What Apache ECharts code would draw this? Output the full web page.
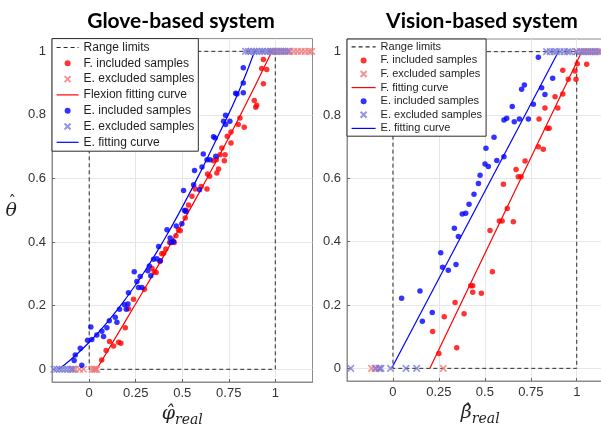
<!DOCTYPE html>
<html><head><meta charset="utf-8">
<script src="https://cdn.jsdelivr.net/npm/echarts@6/dist/echarts.min.js"></script>
<style>html,body{margin:0;padding:0;background:#fff}#c{width:601px;height:428px}</style>
</head><body><div id="c"></div>
<script>
// ---------- tick labels ----------
const xTicks = [0, 0.25, 0.5, 0.75, 1];
const yTicks = [0, 0.2, 0.4, 0.6, 0.8, 1];

// ---------- range limits (both panels) ----------
const rangeLimits = [[0,1],[0,0],[1,0],[1,1],[0,1]];

// ---------- Glove-based system ----------
const gloveFIncluded = [[0.067,0.029],[0.091,0.059],[0.109,0.087],[0.131,0.073],[0.158,0.085],[0.17,0.082],[0.194,0.131],[0.211,0.19],[0.238,0.22],[0.297,0.252],[0.337,0.318],[0.349,0.307],[0.36,0.304],[0.38,0.339],[0.39,0.363],[0.4,0.365],[0.412,0.378],[0.432,0.399],[0.457,0.399],[0.466,0.42],[0.48,0.439],[0.489,0.436],[0.516,0.476],[0.52,0.5],[0.534,0.517],[0.552,0.544],[0.57,0.567],[0.602,0.575],[0.633,0.567],[0.636,0.614],[0.647,0.607],[0.668,0.656],[0.683,0.659],[0.686,0.617],[0.695,0.63],[0.703,0.675],[0.713,0.696],[0.726,0.656],[0.73,0.675],[0.742,0.733],[0.762,0.712],[0.762,0.746],[0.801,0.77],[0.81,0.79],[0.833,0.761],[0.887,0.845],[0.895,0.824],[0.9,0.83],[0.936,0.898],[0.927,0.946],[0.954,0.943],[0.936,0.974]];
const gloveFExcluded = [[-0.085,0],[-0.075,0],[-0.052,0],[-0.031,0],[0.015,0],[0.025,0],[0.03,0],[0.035,0],[0.041,0],[0.98,1],[1.0,1],[1.02,1],[1.04,1],[1.06,1],[1.08,1],[1.1,1],[1.12,1],[1.14,1],[1.16,1],[1.18,1],[1.195,1]];
const gloveFCurve = [[0.04,0],[0.2,0.157],[0.4,0.356],[0.6,0.565],[0.8,0.785],[0.982,1]];
const gloveEIncluded = [[-0.081,0.028],[-0.075,0.045],[-0.048,0.066],[-0.04,0.013],[-0.009,0.091],[0.009,0.133],[0.014,0.094],[0.041,0.108],[0.068,0.12],[0.077,0.103],[0.095,0.131],[0.108,0.153],[0.14,0.164],[0.149,0.148],[0.163,0.189],[0.19,0.203],[0.199,0.189],[0.208,0.205],[0.211,0.241],[0.242,0.307],[0.256,0.276],[0.265,0.257],[0.274,0.292],[0.283,0.257],[0.315,0.31],[0.323,0.325],[0.331,0.294],[0.346,0.346],[0.364,0.348],[0.373,0.386],[0.382,0.341],[0.418,0.439],[0.435,0.413],[0.44,0.399],[0.453,0.402],[0.468,0.451],[0.498,0.458],[0.512,0.499],[0.507,0.562],[0.52,0.496],[0.561,0.58],[0.566,0.625],[0.593,0.565],[0.606,0.636],[0.613,0.677],[0.633,0.659],[0.649,0.659],[0.668,0.731],[0.677,0.727],[0.68,0.67],[0.722,0.78],[0.733,0.799],[0.733,0.77],[0.756,0.78],[0.787,0.868],[0.794,0.866],[0.828,0.9],[0.828,0.87],[0.828,0.948]];
const gloveEExcluded = [[-0.19,0],[-0.175,0],[-0.16,0],[-0.145,0],[-0.13,0],[-0.115,0],[-0.1,0],[-0.09,0],[0.84,1],[0.855,1],[0.87,1],[0.885,1],[0.9,1],[0.915,1],[0.93,1],[0.945,1],[0.96,1],[0.975,1],[0.99,1],[1.01,1],[1.03,1],[1.05,1],[1.07,1]];
const gloveECurve = [[-0.165,0],[-0.1,0.03],[0,0.085],[0.1,0.15],[0.2,0.225],[0.3,0.31],[0.4,0.405],[0.5,0.51],[0.6,0.623],[0.7,0.743],[0.8,0.868],[0.889,1]];

// ---------- Vision-based system ----------
const visionFIncluded = [[0.216,0.116],[0.25,0.047],[0.279,0.163],[0.338,0.208],[0.347,0.065],[0.387,0.172],[0.423,0.261],[0.434,0.261],[0.434,0.24],[0.481,0.237],[0.528,0.435],[0.541,0.305],[0.579,0.465],[0.594,0.465],[0.622,0.505],[0.655,0.463],[0.601,0.581],[0.67,0.628],[0.682,0.605],[0.697,0.605],[0.719,0.655],[0.791,0.7],[0.818,0.692],[0.795,0.787],[0.827,0.822],[0.84,0.758],[0.85,0.758],[0.882,0.858],[0.897,0.822],[0.924,0.866],[0.924,0.941],[0.954,0.913],[0.99,0.939],[0.996,0.913],[1.003,0.962],[1.054,0.96]];
const visionFExcluded = [[-0.116,0],[-0.098,0],[-0.07,0],[0.274,0],[1.0,1],[1.03,1],[1.05,1],[1.07,1],[1.09,1],[1.11,1],[1.13,1]];
const visionFCurve = [[0.201,0],[1.027,1]];
const visionEIncluded = [[0.047,0.221],[0.147,0.244],[0.16,0.149],[0.214,0.176],[0.26,0.365],[0.27,0.319],[0.301,0.31],[0.334,0.442],[0.343,0.328],[0.356,0.416],[0.377,0.487],[0.396,0.49],[0.414,0.518],[0.441,0.55],[0.465,0.584],[0.474,0.61],[0.501,0.645],[0.506,0.695],[0.519,0.637],[0.55,0.73],[0.565,0.656],[0.604,0.668],[0.604,0.784],[0.619,0.79],[0.649,0.827],[0.66,0.779],[0.688,0.787],[0.7,0.881],[0.715,0.895],[0.737,0.787],[0.764,0.834],[0.791,0.982],[0.809,0.886],[0.827,0.865],[0.869,0.916]];
const visionEExcluded = [[-0.23,0],[-0.093,0],[-0.076,0],[-0.065,0],[-0.013,0],[0.071,0],[0.129,0],[0.836,1],[0.855,1],[0.875,1],[0.89,1],[0.91,1],[0.93,1],[0.95,1],[0.963,1],[1.0,1],[1.02,1],[1.04,1],[1.06,1],[1.08,1],[1.1,1],[1.12,1]];
const visionECurve = [[-0.007,0],[0.9,1]];

// ---------- labels ----------
const titles = ['Glove-based system', 'Vision-based system'];
const gloveLegend = ['Range limits', 'F. included samples', 'E. excluded samples', 'Flexion fitting curve', 'E. included samples', 'E. excluded samples', 'E. fitting curve'];
const visionLegend = ['Range limits', 'F. included samples', 'F. excluded samples', 'F. fitting curve', 'E. included samples', 'E. excluded samples', 'E. fitting curve'];

const FONT = 'Liberation Sans';
const RED = '#ff0000', BLUE = '#0000ff', RED_X = '#ee7a7a', BLUE_X = '#7a7ad8';
const CROSS = 'path://M0,0L10,10M10,0L0,10';

function xAxis(idx, min, max, sym) {
  return {
    type: 'value', gridIndex: idx, min: min, max: max,
    axisLine: {show: true, onZero: false, lineStyle: {color: '#8c8c8c', width: 1}},
    axisTick: {show: true, inside: true, length: 3, customValues: xTicks, lineStyle: {color: '#666'}},
    axisLabel: {customValues: xTicks, formatter: v => String(+(+v).toFixed(2)), color: '#333', fontSize: 13, fontFamily: FONT, margin: 5},
    splitLine: {show: true, lineStyle: {color: '#e6e6e6', width: 1}},
    name: '{a|' + sym + '}{b|real}', nameLocation: 'middle', nameGap: 22,
    nameTextStyle: {rich: {
      a: {fontFamily: 'DejaVu Serif', fontStyle: 'italic', fontSize: 19, color: '#222', lineHeight: 22, verticalAlign: 'top'},
      b: {fontFamily: 'DejaVu Serif', fontStyle: 'italic', fontSize: 14, color: '#222', lineHeight: 14, verticalAlign: 'bottom'}
    }}
  };
}
function yAxis(idx, withName) {
  return {
    type: 'value', gridIndex: idx, min: -0.04, max: 1.04,
    axisLine: {show: true, onZero: false, lineStyle: {color: '#8c8c8c', width: 1}},
    axisTick: {show: true, inside: true, length: 3, customValues: yTicks, lineStyle: {color: '#666'}},
    axisLabel: {customValues: yTicks, formatter: v => String(+(+v).toFixed(2)), color: '#333', fontSize: 13, fontFamily: FONT, margin: 6},
    splitLine: {show: true, lineStyle: {color: '#e6e6e6', width: 1}},
    name: withName ? '{h|ˆ}\n{t|θ}' : '', nameLocation: 'middle', nameRotate: 0, nameGap: 35,
    nameTextStyle: {align: 'right', verticalAlign: 'middle', rich: {
      h: {fontFamily: 'DejaVu Serif', fontSize: 15, color: '#222', lineHeight: 1, align: 'center', padding: [0, 0, 0, 2]},
      t: {fontFamily: 'DejaVu Serif', fontStyle: 'italic', fontSize: 19, color: '#222', lineHeight: 17, align: 'center'}
    }}
  };
}
function panelSeries(idx, tag, d) {
  const ax = {xAxisIndex: idx, yAxisIndex: idx};
  return [
    Object.assign({type: 'line', name: d.labels[0] + '|' + tag + '0', data: rangeLimits, symbol: 'none', silent: true,
      lineStyle: {color: '#2b2b2b', width: 1, type: [4, 3]}, itemStyle: {color: '#2b2b2b'}, z: 2}, ax),
    Object.assign({type: 'scatter', name: d.labels[1] + '|' + tag + '1', data: d.fInc, symbol: 'circle', symbolSize: 5.5, itemStyle: {color: RED}, z: 3}, ax),
    Object.assign({type: 'scatter', name: d.labels[2] + '|' + tag + '2', data: d.fExc, symbol: CROSS, symbolSize: 6.5,
      itemStyle: {color: 'rgba(0,0,0,0)', borderColor: RED_X, borderWidth: 1.6}, z: 3}, ax),
    Object.assign({type: 'line', name: d.labels[3] + '|' + tag + '3', data: d.fCurve, symbol: 'none', smooth: true,
      lineStyle: {color: RED, width: 1.2}, itemStyle: {color: RED}, z: 3}, ax),
    Object.assign({type: 'scatter', name: d.labels[4] + '|' + tag + '4', data: d.eInc, symbol: 'circle', symbolSize: 5.5, itemStyle: {color: BLUE}, z: 4}, ax),
    Object.assign({type: 'scatter', name: d.labels[5] + '|' + tag + '5', data: d.eExc, symbol: CROSS, symbolSize: 6.5,
      itemStyle: {color: 'rgba(0,0,0,0)', borderColor: BLUE_X, borderWidth: 1.6}, z: 4}, ax),
    Object.assign({type: 'line', name: d.labels[6] + '|' + tag + '6', data: d.eCurve, symbol: 'none', smooth: true,
      lineStyle: {color: BLUE, width: 1.2}, itemStyle: {color: BLUE}, z: 4}, ax)
  ];
}
function legend(tag, labels, left, top, fs, lh, iw) {
  return {
    orient: 'vertical', left: left, top: top, padding: [1, 4, 1, 4], itemGap: 0,
    itemWidth: iw, itemHeight: 6, selectedMode: false,
    backgroundColor: '#fff', borderColor: '#2b2b2b', borderWidth: 1, borderRadius: 0,
    textStyle: {fontFamily: FONT, fontSize: fs, lineHeight: lh, color: '#1e1e1e'},
    lineStyle: {width: 1.2},
    formatter: n => n.split('|')[0],
    data: labels.map((l, i) => {
      const item = {name: l + '|' + tag + i};
      if (i === 0 || i === 3 || i === 6) item.itemStyle = {opacity: 0};
      return item;
    })
  };
}

const glove = {labels: gloveLegend, fInc: gloveFIncluded, fExc: gloveFExcluded, fCurve: gloveFCurve, eInc: gloveEIncluded, eExc: gloveEExcluded, eCurve: gloveECurve};
const vision = {labels: visionLegend, fInc: visionFIncluded, fExc: visionFExcluded, fCurve: visionFCurve, eInc: visionEIncluded, eExc: visionEExcluded, eCurve: visionECurve};

const chart = echarts.init(document.getElementById('c'), null, {renderer: 'canvas'});
chart.setOption({
  animation: false,
  backgroundColor: '#fff',
  grid: [
    {left: 52, top: 38.6, width: 260.5, height: 343.4, show: true, borderColor: '#8c8c8c', borderWidth: 1, backgroundColor: 'rgba(0,0,0,0)', containLabel: false, outerBoundsMode: 'none'},
    {left: 347, top: 39, width: 266.5, height: 342, show: true, borderColor: '#8c8c8c', borderWidth: 1, backgroundColor: 'rgba(0,0,0,0)', containLabel: false, outerBoundsMode: 'none'}
  ],
  xAxis: [xAxis(0, -0.2, 1.2, 'φ̂'), xAxis(1, -0.25, 1.2, 'β̂')],
  yAxis: [yAxis(0, true), yAxis(1, false)],
  legend: [legend('L', gloveLegend, 52, 38.6, 12, 15.8, 22), legend('R', visionLegend, 347, 39, 11, 13.6, 24)],
  graphic: [
    {type: 'text', x: 181, y: 21, style: {text: titles[0], font: 'bold 21px Lato', fill: '#000', align: 'center', verticalAlign: 'middle', textAlign: 'center', textVerticalAlign: 'middle'}},
    {type: 'text', x: 482, y: 21, style: {text: titles[1], font: 'bold 21px Lato', fill: '#000', align: 'center', verticalAlign: 'middle', textAlign: 'center', textVerticalAlign: 'middle'}}
  ],
  series: panelSeries(0, 'L', glove).concat(panelSeries(1, 'R', vision))
});
</script></body></html>
